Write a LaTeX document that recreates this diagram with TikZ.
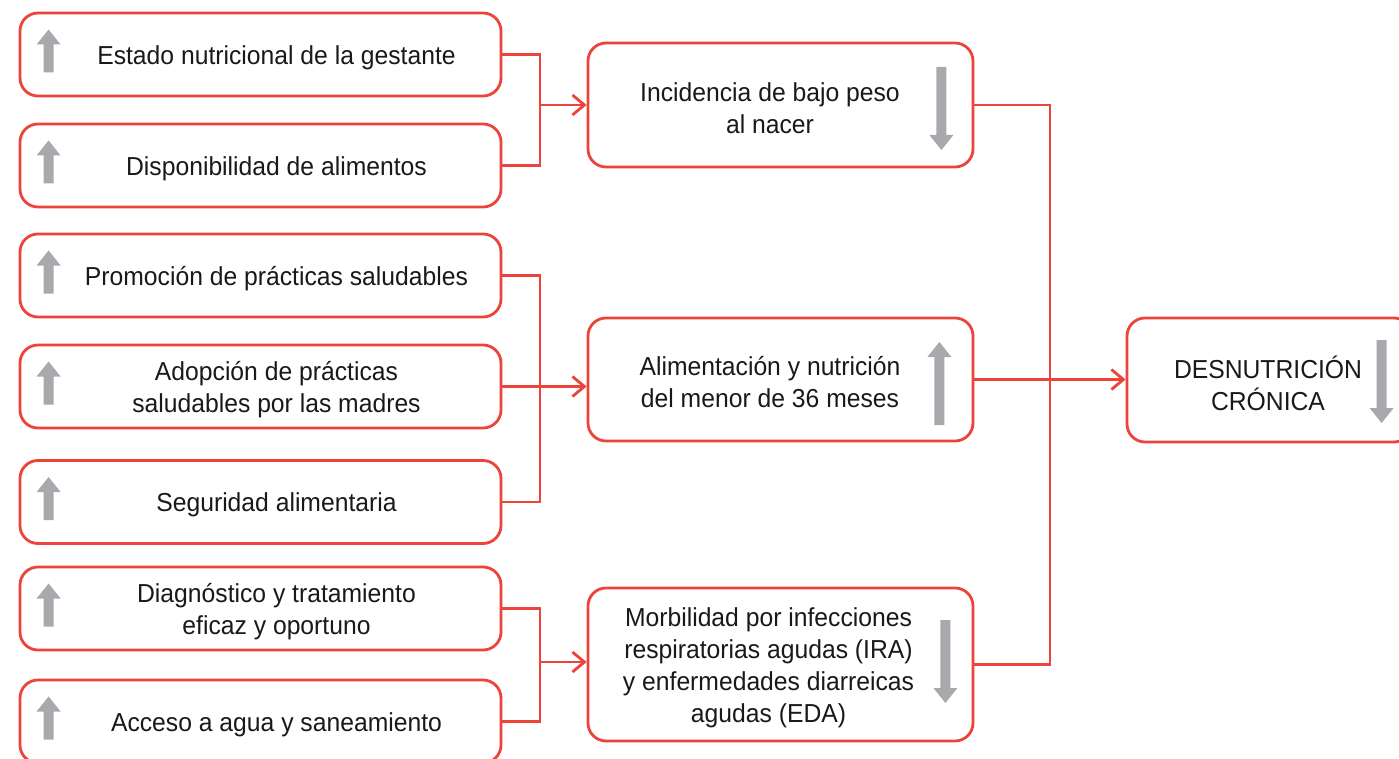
\documentclass[tikz,border=0pt]{standalone}
\usepackage{fontspec}
\setmainfont{Liberation Sans}[FakeStretch=0.95]
\usetikzlibrary{arrows.meta,calc,positioning}

\definecolor{rouge}{RGB}{236,68,58}
\definecolor{gris}{RGB}{167,169,172}

\tikzset{
  caja/.style={draw=rouge, line width=2.8pt, rounded corners=18pt, fill=white},
  izq/.style={caja, minimum width=481pt, minimum height=83pt},
  centro/.style={caja, minimum width=385pt},
  texto/.style={align=center, font=\fontsize{26}{32}\selectfont, text=black!90, yshift=-3pt},
  trait/.style={draw=rouge, line width=2.8pt},
  fleche/.style={trait, -{Straight Barb[length=12pt,width=20pt]}},
}

% fleches grises (point de depart, longueur)
\newcommand{\flechasube}[2]{\fill[gris,shift={#1}] (-5,0) -- (-5,#2-15) -- (-12,#2-15) -- (0,#2) -- (12,#2-15) -- (5,#2-15) -- (5,0) -- cycle ;}
\newcommand{\flechabaja}[2]{\fill[gris,shift={#1},yscale=-1] (-5,0) -- (-5,#2-15) -- (-12,#2-15) -- (0,#2) -- (12,#2-15) -- (5,#2-15) -- (5,0) -- cycle ;}

\begin{document}
\begin{tikzpicture}[x=1pt,y=1pt]

\useasboundingbox (0,0) rectangle (1399,-759) ;

% cases de gauche

\node[izq] (e1) at (260.5,-54.5) {} ;
\node[izq] (e2) at (260.5,-165.5) {} ;
\node[izq] (e3) at (260.5,-275.5) {} ;
\node[izq] (e4) at (260.5,-386.5) {} ;
\node[izq] (e5) at (260.5,-502) {} ;
\node[izq] (e6) at (260.5,-608.5) {} ;
\node[izq] (e7) at (260.5,-721.5) {} ;

\node[texto] (t1) at ($(e1)+(16,0)$) {Estado nutricional de la gestante} ;
\node[texto] (t2) at ($(e2)+(16,0)$) {Disponibilidad de alimentos} ;
\node[texto] (t3) at ($(e3)+(16,0)$) {Promoción de prácticas saludables} ;
\node[texto] (t4) at ($(e4)+(16,0)$) {Adopción de prácticas\\saludables por las madres} ;
\node[texto] (t5) at ($(e5)+(16,0)$) {Seguridad alimentaria} ;
\node[texto] (t6) at ($(e6)+(16,0)$) {Diagnóstico y tratamiento\\eficaz y oportuno} ;
\node[texto] (t7) at ($(e7)+(16,0)$) {Acceso a agua y saneamiento} ;

% cases du milieu et de droite

\node[centro, minimum height=124pt] (a) at (780.5,-105) {} ;
\node[centro, minimum height=123pt] (b) at (780.5,-379.5) {} ;
\node[centro, minimum height=153pt] (c) at (780.5,-664.5) {} ;
\node[caja, minimum width=285pt, minimum height=124pt] (d) at (1269.5,-380) {} ;

\node[texto] (ta) at ($(a)+(-10.5,0)$) {Incidencia de bajo peso\\al nacer} ;
\node[texto] (tb) at ($(b)+(-10.5,0)$) {Alimentación y nutrición\\del menor de 36 meses} ;
\node[texto] (tc) at ($(c)+(-12,0)$) {Morbilidad por infecciones\\respiratorias agudas (IRA)\\y enfermedades diarreicas\\agudas (EDA)} ;
\node[texto] (td) at ($(d)+(-1.5,0)$) {DESNUTRICIÓN\\CRÓNICA} ;

% traits de liaison

\coordinate (j1) at (540,-105) ;
\coordinate (j2) at (540,-386.5) ;
\coordinate (j3) at (540,-662) ;
\coordinate (j4) at (1050,-380) ;

\draw[trait] (e1.east) -| (j1) |- (e2.east) ;
\draw[fleche] (j1) -- (a.west) ;
\draw[trait] (e3.east) -| (j2) |- (e5.east) ;
\draw[fleche] (e4.east) -- (e4.east -| b.west) ;
\draw[trait] (e6.east) -| (j3) |- (e7.east) ;
\draw[fleche] (j3) -- (j3 -| c.west) ;
\draw[trait] (a.east) -| (j4) |- (c.east) ;
\draw[fleche] (b.east) -- (b.east -| d.west) ;

% fleches grises

\flechasube{($(e1.west)+(30,-18)$)}{43}
\flechasube{($(e2.west)+(30,-18)$)}{43}
\flechasube{($(e3.west)+(30,-18)$)}{43}
\flechasube{($(e4.west)+(30,-18)$)}{43}
\flechasube{($(e5.west)+(30,-18)$)}{43}
\flechasube{($(e6.west)+(30,-18)$)}{43}
\flechasube{($(e7.west)+(30,-18)$)}{43}

\flechabaja{($(a.east)+(-33,38)$)}{83}
\flechasube{($(b.east)+(-35,-45.5)$)}{83}
\flechabaja{($(c.east)+(-29,44.5)$)}{83}
\flechabaja{($(d.west)+(256,40)$)}{83}

\end{tikzpicture}
\end{document}
